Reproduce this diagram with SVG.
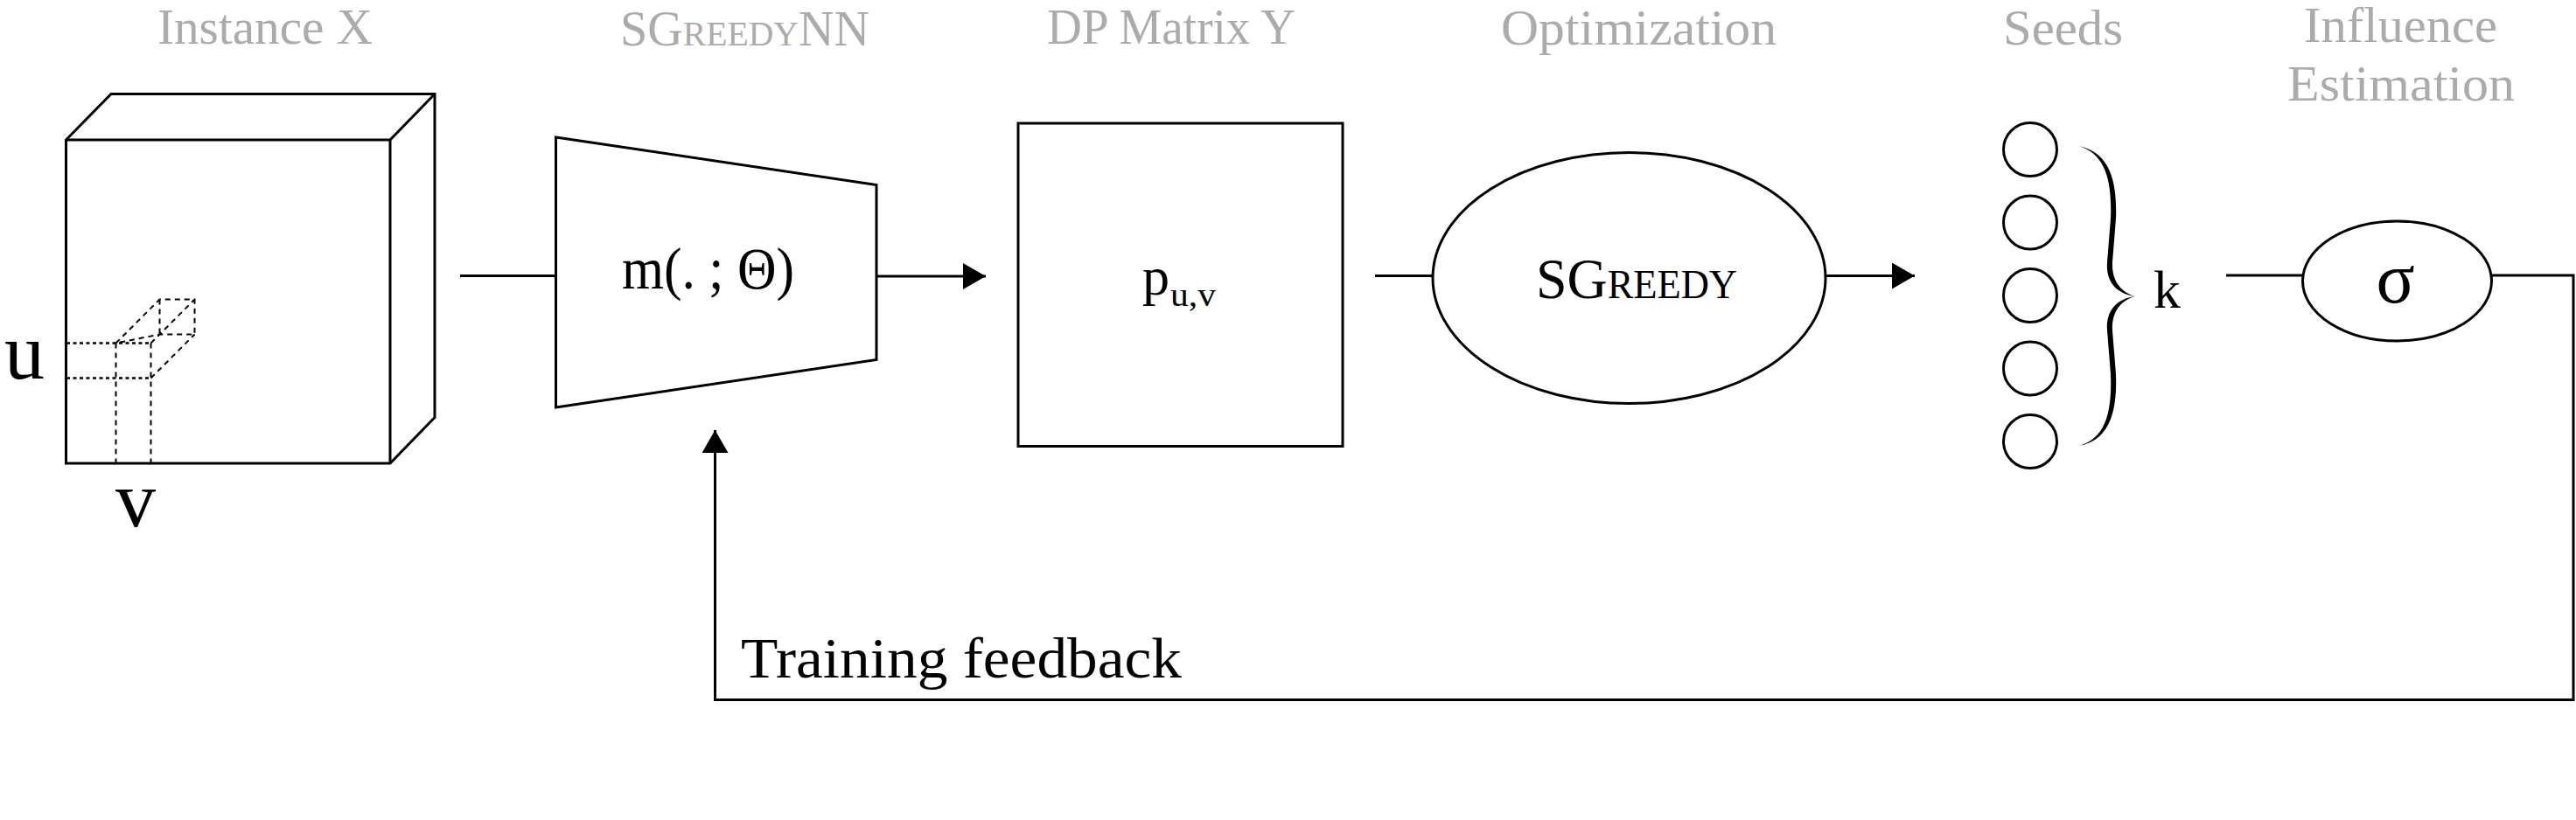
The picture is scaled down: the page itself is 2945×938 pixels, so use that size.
<svg xmlns="http://www.w3.org/2000/svg" width="2945" height="938" viewBox="0 0 2945 938">
<style>
  text { font-family: "Liberation Serif", "DejaVu Serif", serif; }
  .title { fill: #ababab; font-size: 58px; }
  .lbl { fill: #000; }
  .sc { font-variant: small-caps; }
  .shape { fill: #fff; stroke: #000; stroke-width: 3; stroke-linejoin: miter; }
  .edge { fill: none; stroke: #000; stroke-width: 3; }
  .conn { fill: none; stroke: #000; stroke-width: 3; }
  .dot { fill: none; stroke: #000; stroke-width: 2.5; stroke-dasharray: 4 3.5; }
  .dash { fill: none; stroke: #000; stroke-width: 2; stroke-dasharray: 6 5; }
  .seed { fill: #fff; stroke: #000; stroke-width: 3; }
</style>
<defs>
  <marker id="arrow" markerUnits="userSpaceOnUse" markerWidth="26" markerHeight="30" refX="26" refY="15" orient="auto">
    <path d="M0,0 L26,15 L0,30 Z" fill="#000"/>
  </marker>
</defs>
<rect width="2945" height="938" fill="#fff"/>

<!-- column titles -->
<g id="titles">
  <text class="title" x="180" y="50" textLength="246" lengthAdjust="spacingAndGlyphs">Instance X</text>
  <text class="title sc" x="709" y="51.5" textLength="285" lengthAdjust="spacingAndGlyphs">SGreedyNN</text>
  <text class="title" x="1197" y="50" textLength="284" lengthAdjust="spacingAndGlyphs">DP Matrix Y</text>
  <text class="title" x="1716" y="50.5" textLength="315" lengthAdjust="spacingAndGlyphs">Optimization</text>
  <text class="title" x="2290" y="50.5" textLength="137" lengthAdjust="spacingAndGlyphs">Seeds</text>
  <text class="title" x="2634" y="48" textLength="221" lengthAdjust="spacingAndGlyphs">Influence</text>
  <text class="title" x="2615" y="115" textLength="260" lengthAdjust="spacingAndGlyphs">Estimation</text>
</g>

<!-- Instance X cube -->
<g id="instance">
  <path class="shape" d="M75.5,160 L127,107.5 L497,107.5 L497,477.5 L446,530 L75.5,530 Z"/>
  <path class="edge" d="M75.5,160 L446,160 L497,107.5 M446,160 L446,530"/>
  <path class="dot" d="M76,392.5 L172.5,392.5 M76,432.5 L172.5,432.5"/>
  <path class="dash" d="M132.5,392.5 L132.5,530 M172.5,392.5 L172.5,530"/>
  <path class="dash" d="M132.5,392.5 L182.5,342.5 L222.5,342.5 L222.5,382.5 L182.5,382.5 Z M182.5,342.5 L182.5,382.5 M172.5,392.5 L222.5,342.5 M172.5,432.5 L222.5,382.5"/>
  <text class="lbl" x="5" y="433" font-size="92">u</text>
  <text class="lbl" x="155" y="602" font-size="92" text-anchor="middle">v</text>
</g>

<!-- SGreedyNN model -->
<g id="model">
  <polygon class="shape" points="635.5,157 1002,211.5 1002,411.5 635.5,466"/>
  <text class="lbl" x="711" y="330" font-size="68" textLength="197" lengthAdjust="spacingAndGlyphs">m(. ; Θ)</text>
</g>

<!-- DP matrix -->
<g id="matrix">
  <rect class="shape" x="1164" y="141" width="371" height="369.5"/>
  <text class="lbl" x="1306" y="337" font-size="62">p</text>
  <text class="lbl" x="1338" y="350" font-size="38" textLength="52" lengthAdjust="spacingAndGlyphs">u,v</text>
</g>

<!-- SGreedy optimization -->
<g id="sgreedy">
  <ellipse class="shape" cx="1862.5" cy="318" rx="224.5" ry="143.5"/>
  <text class="lbl sc" x="1756" y="341" font-size="66" textLength="230" lengthAdjust="spacingAndGlyphs">SGreedy</text>
</g>

<!-- Seeds -->
<g id="seeds">
  <circle class="seed" cx="2321" cy="171" r="30.5"/>
  <circle class="seed" cx="2321" cy="254.5" r="30.5"/>
  <circle class="seed" cx="2321" cy="338" r="30.5"/>
  <circle class="seed" cx="2321" cy="421.5" r="30.5"/>
  <circle class="seed" cx="2321" cy="505" r="30.5"/>
  <path fill="#000" d="M2377,167 C2408,174 2421,200 2419,250 L2415,300 C2414,324 2427,335 2441,339 C2424,337 2407,326 2409,300 L2413,250 C2415,200 2404,176 2377,167 Z"/>
  <path fill="#000" d="M2441,339 C2427,343 2414,354 2415,378 L2419,428 C2421,478 2408,504 2377,510 C2404,502 2415,478 2413,428 L2409,378 C2407,352 2424,341 2441,339 Z"/>
  <text class="lbl" x="2462" y="352" font-size="62">k</text>
</g>

<!-- Influence estimation -->
<g id="influence">
  <ellipse class="shape" cx="2740.5" cy="321.5" rx="108" ry="68.5"/>
  <text class="lbl" x="2738.5" y="346" font-size="82" text-anchor="middle">σ</text>
</g>

<!-- connectors -->
<g id="connectors">
  <line class="conn" x1="526" y1="315.5" x2="635.5" y2="315.5"/>
  <line class="conn" x1="1002" y1="316" x2="1127" y2="316" marker-end="url(#arrow)"/>
  <line class="conn" x1="1572" y1="315.5" x2="1638" y2="315.5"/>
  <line class="conn" x1="2087" y1="315.5" x2="2189" y2="315.5" marker-end="url(#arrow)"/>
  <line class="conn" x1="2545" y1="315" x2="2633" y2="315"/>
  <polyline class="conn" points="2848.5,315 2942,315 2942,800.5 817.5,800.5 817.5,492" marker-end="url(#arrow)"/>
  <text class="lbl" x="847" y="775" font-size="66" textLength="504" lengthAdjust="spacingAndGlyphs">Training feedback</text>
</g>
</svg>
